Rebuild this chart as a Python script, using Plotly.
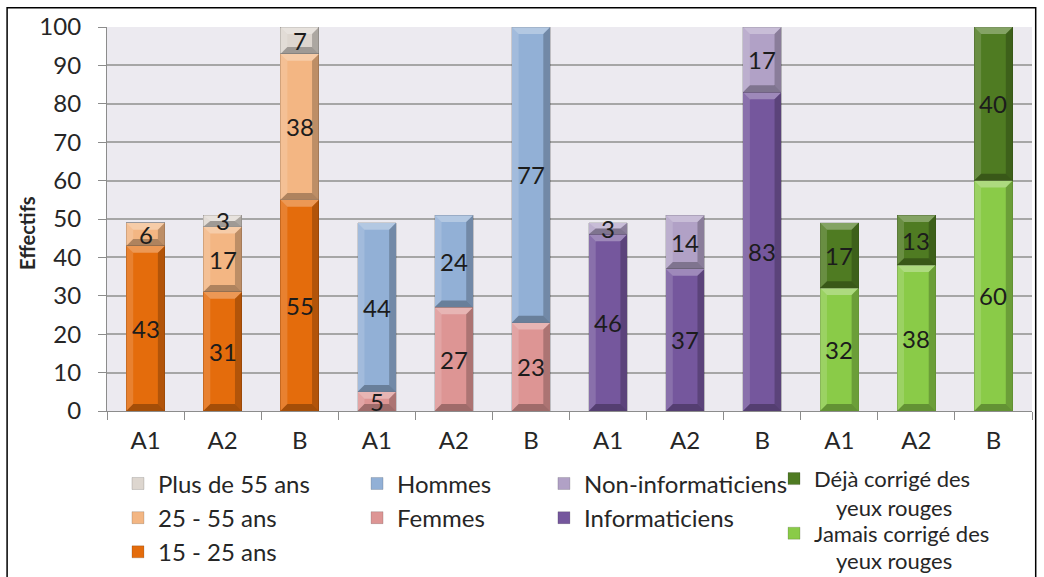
import plotly.graph_objects as go

# Category positions (four groups of A1 / A2 / B)
tick_labels = ["A1", "A2", "B"] * 4
positions = list(range(12))

# Age groups
age_x = [0, 1, 2]
age_15_25 = [43, 31, 55]
age_25_55 = [6, 17, 38]
age_55_plus = [0, 3, 7]

# Gender
gender_x = [3, 4, 5]
femmes = [5, 27, 23]
hommes = [44, 24, 77]

# IT profile
info_x = [6, 7, 8]
informaticiens = [46, 37, 83]
non_informaticiens = [3, 14, 17]

# Red-eye correction
yeux_x = [9, 10, 11]
jamais = [32, 38, 60]
deja = [17, 13, 40]
yeux_suffix = "yeux rouges"

BAR_W = 0.5
FONT = "Lato"
TXT = "#262626"
FS = 24
FS_YEUX = 22

# (legend label, x, values, colour, legend id, legend rank), bottom segment first within each group
series = [
    ("15 - 25 ans", age_x, age_15_25, "#E46C0C", "legend", 3),
    ("25 - 55 ans", age_x, age_25_55, "#F3B683", "legend", 2),
    ("Plus de 55 ans", age_x, age_55_plus, "#DDD6CF", "legend", 1),
    ("Femmes", gender_x, femmes, "#DD9594", "legend2", 2),
    ("Hommes", gender_x, hommes, "#92B0D6", "legend2", 1),
    ("Informaticiens", info_x, informaticiens, "#75579D", "legend3", 2),
    ("Non-informaticiens", info_x, non_informaticiens, "#B1A1C6", "legend3", 1),
    ("Jamais corrigé des", yeux_x, jamais, "#8ACB48", "legend4", 2),
    ("Déjà corrigé des", yeux_x, deja, "#4F7B22", "legend4", 1),
]

fig = go.Figure()
shapes = []
annotations = []
stack_top = {p: 0 for p in positions}

# bevel sizes expressed in data units
BEV_X = 0.09
BEV_Y = 1.8

for name, xs, vals, color, leg, rank in series:
    bases = [stack_top[x] for x in xs]
    fig.add_trace(go.Bar(
        x=xs, y=vals, base=bases, name=name, width=BAR_W,
        marker=dict(color=color, line=dict(width=0.6, color="rgba(0,0,0,0.25)")),
        legend=leg, legendgroup=name, legendrank=rank,
        hoverinfo="skip",
    ))
    for x, b, v in zip(xs, bases, vals):
        if v <= 0:
            continue
        x0, x1 = x - BAR_W / 2, x + BAR_W / 2
        y0, y1 = b, b + v
        by = min(BEV_Y, v / 2)
        bx = BEV_X
        # mitred bevel frame: top light, left light, right dark, bottom dark
        frame = [
            (f"M{x0},{y1} L{x1},{y1} L{x1-bx},{y1-by} L{x0+bx},{y1-by} Z", "rgba(255,255,255,0.30)"),
            (f"M{x0},{y0} L{x0},{y1} L{x0+bx},{y1-by} L{x0+bx},{y0+by} Z", "rgba(255,255,255,0.15)"),
            (f"M{x1},{y0} L{x1},{y1} L{x1-bx},{y1-by} L{x1-bx},{y0+by} Z", "rgba(0,0,0,0.22)"),
            (f"M{x0},{y0} L{x1},{y0} L{x1-bx},{y0+by} L{x0+bx},{y0+by} Z", "rgba(0,0,0,0.28)"),
        ]
        for path, fc in frame:
            shapes.append(dict(type="path", path=path, xref="x", yref="y",
                               fillcolor=fc, line=dict(width=0), layer="above"))
        annotations.append(dict(
            x=x, y=b + v / 2, xref="x", yref="y", text=str(v), showarrow=False,
            font=dict(family=FONT, size=FS, color="#1c1c1c"),
        ))
        stack_top[x] = y1

# y-axis title
annotations.append(dict(
    x=-0.0865, y=0.4635, xref="paper", yref="paper", text="<b>Effectifs</b>",
    textangle=-90, xanchor="center", yanchor="middle", showarrow=False,
    font=dict(family=FONT, size=20, color=TXT),
))

# second lines of the two red-eye legend entries (tighter line spacing)
for yy in (-0.25, -0.3906):
    annotations.append(dict(
        x=0.786, y=yy, xref="paper", yref="paper", text=yeux_suffix,
        xanchor="left", yanchor="middle", showarrow=False,
        font=dict(family=FONT, size=FS_YEUX, color=TXT),
    ))

# outer frame of the chart area
shapes.append(dict(type="rect", xref="paper", yref="paper",
                   x0=-0.108, x1=1.004, y0=-0.7, y1=1.05,
                   line=dict(color="black", width=1.5), fillcolor="rgba(0,0,0,0)",
                   layer="below"))

legend_common = dict(
    orientation="v", yanchor="top", xanchor="left",
    xref="container", yref="container",
    bgcolor="rgba(0,0,0,0)", traceorder="grouped",
    itemwidth=30,
)
leg_font = dict(family=FONT, size=FS, color=TXT)

LEG_Y = 0.2004

fig.update_layout(
    width=1044, height=577,
    margin=dict(l=107, r=12, t=27, b=166, autoexpand=False),
    paper_bgcolor="white",
    plot_bgcolor="#ECEAF0",
    barmode="stack",
    font=dict(family=FONT, size=FS, color=TXT),
    shapes=shapes,
    annotations=annotations,
    xaxis=dict(
        range=[-0.5, 11.5], tickmode="array", tickvals=positions, ticktext=tick_labels,
        ticks="", showgrid=False, showline=True, linecolor="#8C8C8C", linewidth=1.2,
        tickfont=dict(family=FONT, size=FS, color=TXT), ticklabelstandoff=8,
        minor=dict(tick0=-0.5, dtick=1, ticks="outside", ticklen=8, tickcolor="#8C8C8C"),
        zeroline=False, fixedrange=True,
    ),
    yaxis=dict(
        range=[0, 100], dtick=10, showgrid=True, gridcolor="#A6A6A6", gridwidth=1.5,
        showline=True, linecolor="#8C8C8C", linewidth=1.2,
        ticks="outside", ticklen=8, tickcolor="#8C8C8C",
        tickfont=dict(family=FONT, size=FS, color=TXT), ticklabelstandoff=12,
        zeroline=False, fixedrange=True,
    ),
    legend=dict(x=0.113, y=LEG_Y, tracegroupgap=0, font=leg_font, **legend_common),
    legend2=dict(x=0.342, y=LEG_Y, tracegroupgap=0, font=leg_font, **legend_common),
    legend3=dict(x=0.521, y=LEG_Y, tracegroupgap=0, font=leg_font, **legend_common),
    legend4=dict(x=0.7414, y=0.2066, tracegroupgap=23,
                 font=dict(family=FONT, size=FS_YEUX, color=TXT), **legend_common),
    showlegend=True,
)

fig.write_html("out.html")
